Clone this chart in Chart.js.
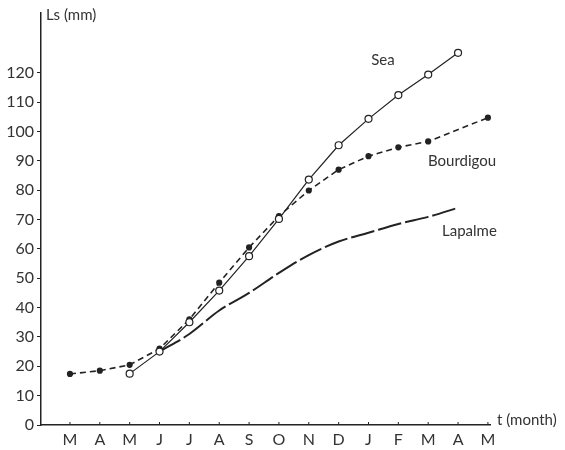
<!DOCTYPE html>
<html>
<head>
<meta charset="utf-8">
<script src="https://cdn.jsdelivr.net/npm/chart.js@4"></script>
<style>
  body { margin: 0; background: #fff; }
  #wrap { width: 565px; height: 450px; }
</style>
</head>
<body>
<div id="wrap"><canvas id="mychart"></canvas></div>
<script>
let months = ['M','A','M','J','J','A','S','O','N','D','J','F','M','A','M']
let y_ticks = [0,10,20,30,40,50,60,70,80,90,100,110,120]

// values per month index, null = no measurement
let sea = [null,null,17.5,25,35,45.8,57.5,70.2,83.6,95.3,104.3,112.4,119.4,126.8,null]
let bourdigou = [17.4,18.5,20.5,26,36,48.5,60.5,71.2,79.9,87,91.6,94.6,96.6,null,104.7]
let lapalme = [null,null,null,25,31,39,45,51.8,57.9,62.5,65.5,68.5,70.9,74,null]

let font_name = 'Lato, "Open Sans", sans-serif'

function to_points(arr){
    let out = []
    arr.forEach(function(v, i){
        if (v !== null) out.push({x: i, y: v})
    })
    return out
}

// series names written beside the curves
let names = [
    {text: 'Sea', x: 383, y: 60, align: 'center'},
    {text: 'Bourdigou', x: 428, y: 161, align: 'left'},
    {text: 'Lapalme', x: 442, y: 231, align: 'left'},
    {text: 'Ls (mm)', x: 46, y: 15, align: 'left'},
    {text: 't (month)', x: 497, y: 420, align: 'left'}
]

let textPlugin = {
    id: 'texts',
    afterDraw(chart){
        let ctx = chart.ctx
        let xs = chart.scales.x
        let bottom = chart.chartArea.bottom
        ctx.save()
        // small tick marks on the inside of the month axis
        ctx.strokeStyle = '#222'
        ctx.lineWidth = 1
        for (let i = 0; i < months.length; i++) {
            let px = xs.getPixelForValue(i)
            ctx.beginPath()
            ctx.moveTo(px, bottom)
            ctx.lineTo(px, bottom - 3)
            ctx.stroke()
        }
        ctx.fillStyle = '#333'
        ctx.font = '15px ' + font_name
        ctx.textBaseline = 'middle'
        names.forEach(function(n){
            ctx.textAlign = n.align
            ctx.fillText(n.text, n.x, n.y)
        })
        ctx.restore()
    }
}

function fun_chart(){
    let ctx = document.getElementById('mychart').getContext('2d')
    let mychart = new Chart(ctx, {
        type: 'line',
        data: {
            datasets: [{
                label: 'Sea',
                data: to_points(sea),
                borderColor: '#222',
                borderWidth: 1.2,
                pointRadius: 3.5,
                pointBackgroundColor: '#fff',
                pointBorderColor: '#222',
                pointBorderWidth: 1.2,
                tension: 0
            }, {
                label: 'Bourdigou',
                data: to_points(bourdigou),
                borderColor: '#222',
                borderWidth: 1.6,
                borderDash: [6, 4],
                pointRadius: 2.3,
                pointBackgroundColor: '#222',
                pointBorderColor: '#222',
                tension: 0
            }, {
                label: 'Lapalme',
                data: to_points(lapalme),
                borderColor: '#222',
                borderWidth: 2,
                borderDash: [24, 4],
                pointRadius: 0,
                cubicInterpolationMode: 'monotone'
            }]
        },
        options: {
            responsive: true,
            maintainAspectRatio: false,
            animation: false,
            clip: false,
            layout: { padding: { top: 5, right: 75, left: 0, bottom: 0 } },
            plugins: { legend: { display: false }, tooltip: { enabled: false } },
            scales: {
                x: {
                    type: 'linear',
                    min: -0.97,
                    max: 14.07,
                    afterBuildTicks: function(s){
                        s.ticks = months.map(function(m, i){ return {value: i} })
                    },
                    afterFit: function(s){ s.height = 25 },
                    ticks: {
                        autoSkip: false,
                        maxRotation: 0,
                        padding: -1,
                        color: '#333',
                        font: { size: 16, family: font_name, lineHeight: 1 },
                        callback: function(v){ return months[v] }
                    },
                    grid: { display: false },
                    border: { display: true, color: '#222', width: 1.5 }
                },
                y: {
                    min: 0,
                    max: 140.5,
                    afterBuildTicks: function(s){
                        s.ticks = y_ticks.map(function(v){ return {value: v} })
                    },
                    afterFit: function(s){ s.width = 41 },
                    ticks: {
                        padding: 3,
                        color: '#333',
                        font: { size: 16, family: font_name }
                    },
                    grid: { drawOnChartArea: false, tickLength: 4, color: '#222' },
                    border: { display: true, color: '#222', width: 1.5 }
                }
            }
        },
        plugins: [textPlugin]
    })
}

fun_chart()
</script>
</body>
</html>
